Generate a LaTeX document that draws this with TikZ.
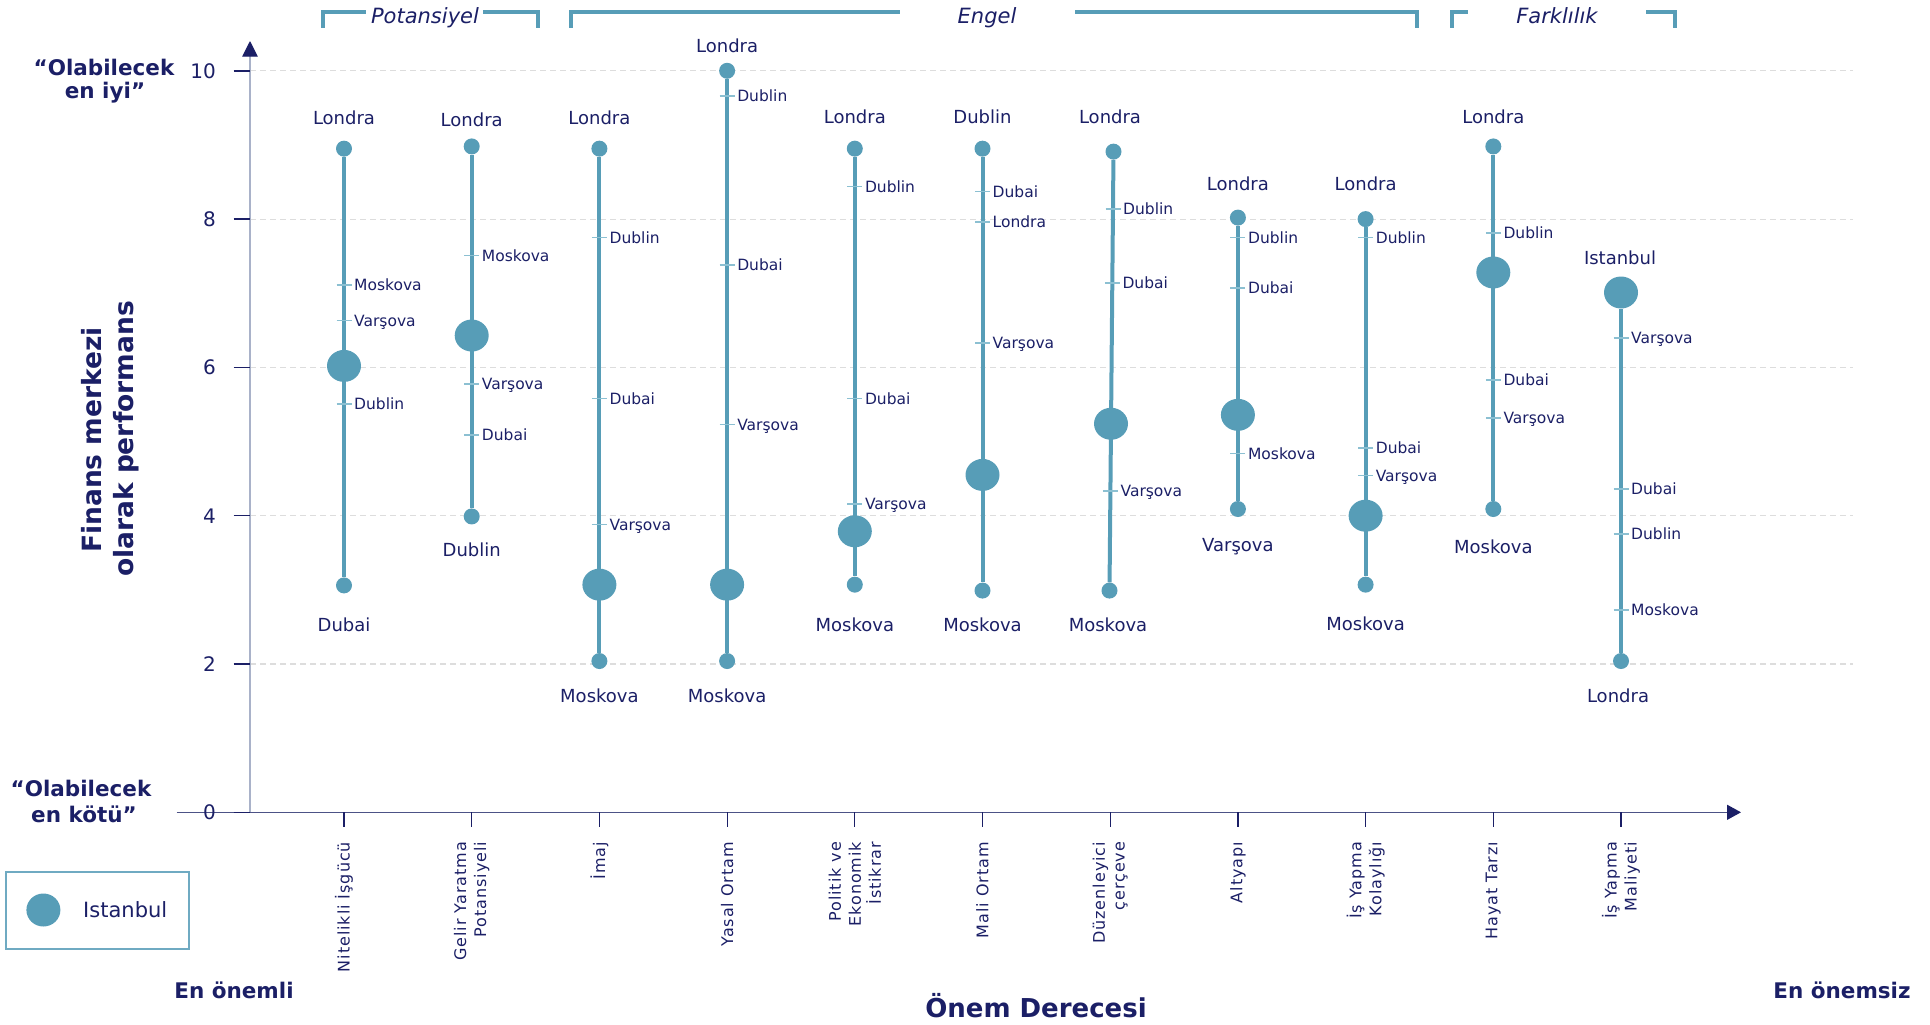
\documentclass[tikz,border=0pt]{standalone}
\usepackage{fontspec}
\setmainfont{DejaVu Sans}
\newfontfamily\catfam[LetterSpace=6]{DejaVu Sans}
\usetikzlibrary{arrows.meta,shapes.geometric}

\definecolor{lolli}{HTML}{579DB7}
\definecolor{tickc}{HTML}{8CC0D2}
\definecolor{ink}{HTML}{1B1F66}
\definecolor{gridc}{HTML}{DDDDDD}
\definecolor{yaxc}{HTML}{A9B2C9}
\definecolor{xaxc}{HTML}{4C5286}
\definecolor{boxc}{HTML}{6FAAC2}

\newcommand\fTick{\fontsize{15.5}{18}\selectfont}
\newcommand\fCity{\fontsize{18}{21}\selectfont}
\newcommand\fNum{\fontsize{20}{24}\selectfont}
\newcommand\fCat{\catfam\fontsize{16}{20}\selectfont}
\newcommand\fHead{\itshape\fontsize{21}{25}\selectfont}
\newcommand\fEnd{\bfseries\fontsize{21.5}{26}\selectfont}
\newcommand\fTitle{\bfseries\fontsize{26.5}{32}\selectfont}
\newcommand\fAxis{\bfseries\fontsize{26}{30}\selectfont}
\newcommand\fLeg{\fontsize{21}{25}\selectfont}

% tick mark on a stem with its city name: name, x, score, text
\newcommand\mk[4]{%
  \draw[tk] ({#2-7.5},{Y(#3)}) -- ({#2+7.5},{Y(#3)});
  \node[tlab] (#1) at ({#2+10},{Y(#3)+5.6}) {#4};}

\begin{document}
\begin{tikzpicture}[x=1pt,y=-1pt,
  declare function={Y(\q)=812.3-74.15*\q;},
  sdot/.style={circle,fill=lolli,minimum size=16pt,inner sep=0pt},
  bdot/.style={ellipse,fill=lolli,minimum width=34pt,minimum height=32pt,inner sep=0pt},
  stem/.style={draw=lolli,line width=4pt},
  tk/.style={draw=tickc,line width=1.6pt},
  tlab/.style={anchor=base west,inner sep=0pt,font=\fTick,text=ink},
  clab/.style={anchor=base,inner sep=0pt,font=\fCity,text=ink},
  cat/.style={rotate=90,anchor=east,align=right,inner sep=0pt,font=\fCat,text=ink},
  brk/.style={draw=lolli,line width=4pt,line join=miter},
  head/.style={anchor=base,inner sep=0pt,font=\fHead,text=ink},
  endlab/.style={anchor=base,inner sep=0pt,font=\fEnd,text=ink},
  ]
\useasboundingbox (0,0) rectangle (1930,1025);

% grid
\foreach \n in {2,4,...,10}
  \draw[gridc,line width=1.2pt,dash pattern=on 6pt off 4pt] (250,{Y(\n)}) -- (1853,{Y(\n)});

% axes
\coordinate (O) at (250,{Y(0)});
\coordinate (ytop) at (250,41);
\coordinate (xl) at (176.7,{Y(0)});
\coordinate (xr) at (1741,{Y(0)});
\draw[xaxc,line width=1.3pt,-{Triangle[width=15pt,length=14pt,color=ink]}] (xl) -- (xr);
\draw[yaxc,line width=1.3pt,-{Triangle[width=15.6pt,length=15.7pt,color=ink]}] (O) -- (ytop);
\foreach \n in {0,2,...,10}{
  \draw[ink,line width=1.5pt] (233.5,{Y(\n)}) -- (250,{Y(\n)});
  \node[anchor=base east,inner sep=0pt,font=\fNum,text=ink] (yl\n) at (216,{Y(\n)+7.3}) {\n};
}
\foreach \x in {344,471.7,599.4,727.1,854.8,982.5,1110.2,1237.9,1365.6,1493.3,1621}
  \draw[ink,line width=1.2pt] (\x,{Y(0)}) -- (\x,827);

% group headers
\draw[brk] (323,28) -- (323,11.7) -- (366,11.7);
\draw[brk] (483,11.7) -- (538,11.7) -- (538,28);
\node[head] (hp) at (425,23.5) {Potansiyel};
\draw[brk] (571,28) -- (571,11.7) -- (900,11.7);
\draw[brk] (1075,11.7) -- (1417,11.7) -- (1417,28);
\node[head] (he) at (987,24) {Engel};
\draw[brk] (1452,28) -- (1452,11.7) -- (1468,11.7);
\draw[brk] (1646,11.7) -- (1675,11.7) -- (1675,28);
\node[head] (hf) at (1557,24) {Farklılık};

% 1 Nitelikli isgucu
\node[sdot] (a1t) at (344,{Y(8.95)}) {};
\node[sdot] (a1b) at (344,{Y(3.06)}) {};
\draw[stem] (a1t) -- (a1b);
\mk{a1m}{344}{7.11}{Moskova}
\mk{a1v}{344}{6.63}{Varşova}
\mk{a1d}{344}{5.51}{Dublin}
\node[bdot] (a1i) at (344,{Y(6.02)}) {};
\node[clab] (a1tl) at (344,124) {Londra};
\node[clab] (a1bl) at (344,631.5) {Dubai};

% 2 Gelir yaratma
\node[sdot] (a2t) at (471.7,{Y(8.98)}) {};
\node[sdot] (a2b) at (471.7,{Y(3.99)}) {};
\draw[stem] (a2t) -- (a2b);
\mk{a2m}{471.7}{7.51}{Moskova}
\mk{a2v}{471.7}{5.78}{Varşova}
\mk{a2d}{471.7}{5.09}{Dubai}
\node[bdot] (a2i) at (471.7,{Y(6.43)}) {};
\node[clab] (a2tl) at (471.7,126.5) {Londra};
\node[clab] (a2bl) at (471.7,556.5) {Dublin};

% 3 Imaj
\node[sdot] (a3t) at (599.4,{Y(8.95)}) {};
\node[sdot] (a3b) at (599.4,{Y(2.04)}) {};
\draw[stem] (a3t) -- (a3b);
\mk{a3d}{599.4}{7.75}{Dublin}
\mk{a3u}{599.4}{5.58}{Dubai}
\mk{a3v}{599.4}{3.88}{Varşova}
\node[bdot] (a3i) at (599.4,{Y(3.07)}) {};
\node[clab] (a3tl) at (599.4,124) {Londra};
\node[clab] (a3bl) at (599.4,702) {Moskova};

% 4 Yasal ortam
\node[sdot] (a4t) at (727.1,{Y(10)}) {};
\node[sdot] (a4b) at (727.1,{Y(2.04)}) {};
\draw[stem] (a4t) -- (a4b);
\mk{a4d}{727.1}{9.66}{Dublin}
\mk{a4u}{727.1}{7.38}{Dubai}
\mk{a4v}{727.1}{5.23}{Varşova}
\node[bdot] (a4i) at (727.1,{Y(3.07)}) {};
\node[clab] (a4tl) at (727.1,53) {Londra};
\node[clab] (a4bl) at (727.1,702) {Moskova};

% 5 Politik ve ekonomik istikrar
\node[sdot] (a5t) at (854.8,{Y(8.95)}) {};
\node[sdot] (a5b) at (854.8,{Y(3.07)}) {};
\draw[stem] (a5t) -- (a5b);
\mk{a5d}{854.8}{8.44}{Dublin}
\mk{a5u}{854.8}{5.58}{Dubai}
\mk{a5v}{854.8}{4.16}{Varşova}
\node[bdot] (a5i) at (854.8,{Y(3.79)}) {};
\node[clab] (a5tl) at (854.8,123.5) {Londra};
\node[clab] (a5bl) at (854.8,631.5) {Moskova};

% 6 Mali ortam
\node[sdot] (a6t) at (982.5,{Y(8.95)}) {};
\node[sdot] (a6b) at (982.5,{Y(2.99)}) {};
\draw[stem] (a6t) -- (a6b);
\mk{a6u}{982.5}{8.37}{Dubai}
\mk{a6l}{982.5}{7.96}{Londra}
\mk{a6v}{982.5}{6.33}{Varşova}
\node[bdot] (a6i) at (982.5,{Y(4.55)}) {};
\node[clab] (a6tl) at (982.5,123.5) {Dublin};
\node[clab] (a6bl) at (982.5,631.5) {Moskova};

% 7 Duzenleyici cerceve
\node[sdot] (a7t) at (1113.5,{Y(8.91)}) {};
\node[sdot] (a7b) at (1109.5,{Y(2.99)}) {};
\draw[stem] (a7t) -- (a7b);
\mk{a7d}{1113}{8.14}{Dublin}
\mk{a7u}{1112.3}{7.14}{Dubai}
\mk{a7v}{1110.4}{4.33}{Varşova}
\node[bdot] (a7i) at (1111,{Y(5.24)}) {};
\node[clab] (a7tl) at (1110,123.5) {Londra};
\node[clab] (a7bl) at (1108,631.5) {Moskova};

% 8 Altyapi
\node[sdot] (a8t) at (1237.9,{Y(8.02)}) {};
\node[sdot] (a8b) at (1237.9,{Y(4.09)}) {};
\draw[stem] (a8t) -- (a8b);
\mk{a8d}{1237.9}{7.75}{Dublin}
\mk{a8u}{1237.9}{7.07}{Dubai}
\mk{a8m}{1237.9}{4.84}{Moskova}
\node[bdot] (a8i) at (1237.9,{Y(5.36)}) {};
\node[clab] (a8tl) at (1237.9,190.8) {Londra};
\node[clab] (a8bl) at (1237.9,551.2) {Varşova};

% 9 Is yapma kolayligi
\node[sdot] (a9t) at (1365.6,{Y(8.0)}) {};
\node[sdot] (a9b) at (1365.6,{Y(3.07)}) {};
\draw[stem] (a9t) -- (a9b);
\mk{a9d}{1365.6}{7.75}{Dublin}
\mk{a9u}{1365.6}{4.91}{Dubai}
\mk{a9v}{1365.6}{4.54}{Varşova}
\node[bdot] (a9i) at (1365.6,{Y(4.0)}) {};
\node[clab] (a9tl) at (1365.6,190.8) {Londra};
\node[clab] (a9bl) at (1365.6,630.8) {Moskova};

% 10 Hayat tarzi
\node[sdot] (a10t) at (1493.3,{Y(8.98)}) {};
\node[sdot] (a10b) at (1493.3,{Y(4.09)}) {};
\draw[stem] (a10t) -- (a10b);
\mk{a10d}{1493.3}{7.81}{Dublin}
\mk{a10u}{1493.3}{5.83}{Dubai}
\mk{a10v}{1493.3}{5.32}{Varşova}
\node[bdot] (a10i) at (1493.3,{Y(7.28)}) {};
\node[clab] (a10tl) at (1493.3,123.2) {Londra};
\node[clab] (a10bl) at (1493.3,553.2) {Moskova};

% 11 Is yapma maliyeti
\node[sdot] (a11b) at (1621,{Y(2.04)}) {};
\node[bdot] (a11i) at (1621,{Y(7.01)}) {};
\draw[stem] (a11i) -- (a11b);
\mk{a11v}{1621}{6.40}{Varşova}
\mk{a11u}{1621}{4.36}{Dubai}
\mk{a11d}{1621}{3.75}{Dublin}
\mk{a11m}{1621}{2.73}{Moskova}
\node[clab] (a11tl) at (1620,264.2) {Istanbul};
\node[clab] (a11bl) at (1618,702) {Londra};

% category names
\node[cat] (k1) at (344,841.7) {Nitelikli İşgücü};
\node[cat] (k2) at (471.7,841.7) {Gelir Yaratma\\Potansiyeli};
\node[cat] (k3) at (599.4,841.7) {İmaj};
\node[cat] (k4) at (727.1,841.7) {Yasal Ortam};
\node[cat] (k5) at (854.8,841.7) {Politik ve\\Ekonomik\\İstikrar};
\node[cat] (k6) at (982.5,841.7) {Mali Ortam};
\node[cat] (k7) at (1110.2,841.7) {Düzenleyici\\çerçeve};
\node[cat] (k8) at (1237.9,841.7) {Altyapı};
\node[cat] (k9) at (1365.6,841.7) {İş Yapma\\Kolaylığı};
\node[cat] (k10) at (1493.3,841.7) {Hayat Tarzı};
\node[cat] (k11) at (1621,841.7) {İş Yapma\\Maliyeti};

% axis titles
\node[rotate=90,anchor=base,inner sep=0pt,font=\fTitle,text=ink] (yt1) at (101.5,440) {Finans merkezi};
\node[rotate=90,anchor=base,inner sep=0pt,font=\fTitle,text=ink] (yt2) at (133.5,439) {olarak performans};
\node[endlab] (best1) at (104,75) {“Olabilecek};
\node[endlab] (best2) at (105,98.5) {en iyi”};
\node[endlab] (worst1) at (81,796.7) {“Olabilecek};
\node[endlab] (worst2) at (84,822.7) {en kötü”};
\node[endlab] (most) at (234,998.3) {En önemli};
\node[endlab] (least) at (1842,998.3) {En önemsiz};
\node[anchor=base,inner sep=0pt,font=\fAxis,text=ink] (xt) at (1036,1017.3) {Önem Derecesi};

% legend
\node[draw=boxc,line width=2pt,minimum width=183pt,minimum height=77.6pt,inner sep=0pt] (leg) at (97.9,910.5) {};
\node[bdot,minimum width=34pt,minimum height=33pt] (legdot) at (43.4,910) {};
\node[anchor=base west,inner sep=0pt,font=\fLeg,text=ink] (legtxt) at (83,917.7) {Istanbul};
\end{tikzpicture}
\end{document}
